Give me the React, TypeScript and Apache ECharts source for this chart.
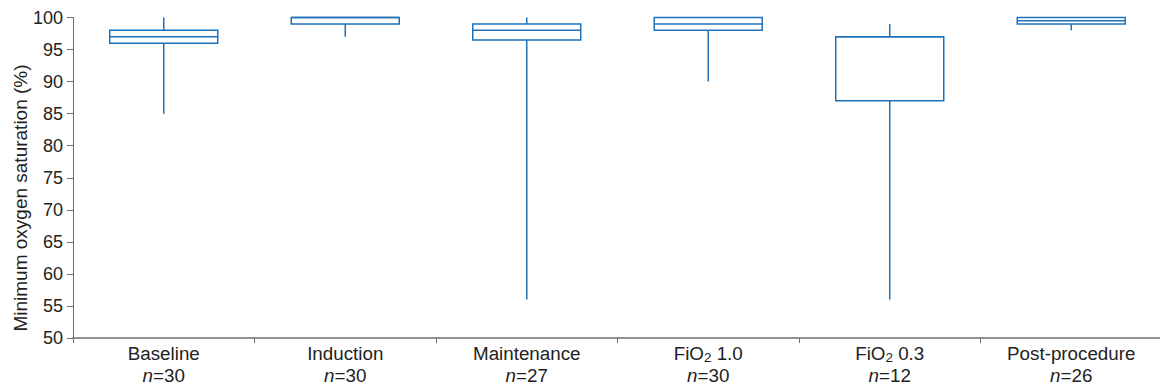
import React, { useEffect, useRef } from "react";
import * as echarts from "echarts";

const categories = ["Baseline", "Induction", "Maintenance", "FiO2 1.0", "FiO2 0.3", "Post-procedure"];
const sampleSizes = [30, 30, 27, 30, 12, 26];
const minValues = [85, 97, 56, 90, 56, 98];
const q1Values = [96, 99, 96.5, 98, 87, 99];
const medianValues = [97, 100, 98, 99, 97, 99.5];
const q3Values = [98, 100, 99, 100, 97, 100];
const maxValues = [100, 100, 100, 100, 99, 100];
const yTicks = [50, 55, 60, 65, 70, 75, 80, 85, 90, 95, 100];
const yTitle = "Minimum oxygen saturation (%)";

const FONT = "Liberation Sans, Arial, Helvetica, sans-serif";
const BLUE = "#1f72b8";

export default function App() {
  const ref = useRef<HTMLDivElement>(null);

  useEffect(() => {
    if (!ref.current) return;
    const chart = echarts.init(ref.current, null, { renderer: "svg" });
    const data = categories.map((_, i) => [i, minValues[i], q1Values[i], medianValues[i], q3Values[i], maxValues[i]]);

    chart.setOption({
      animation: false,
      grid: { left: 73, right: -2, top: 17.5, bottom: 49, containLabel: false, outerBoundsMode: "none" },
      xAxis: {
        type: "category",
        data: categories,
        boundaryGap: true,
        axisLine: { lineStyle: { color: "#6e6e6e", width: 1.5 } },
        axisTick: { show: true, length: 5, lineStyle: { color: "#6e6e6e", width: 1 } },
        axisLabel: {
          margin: 4,
          color: "#222",
          fontFamily: FONT,
          fontSize: 18.8,
          lineHeight: 22.5,
          formatter: (v: string, idx: number) => {
            const name = v.replace("FiO2", "FiO{sub|2}");
            return name + "\n{i|n}=" + sampleSizes[idx];
          },
          rich: {
            i: { fontStyle: "italic", fontFamily: FONT, fontSize: 18.8, color: "#222", lineHeight: 22.5 },
            sub: { fontSize: 13.5, fontFamily: FONT, color: "#222", padding: [9, 0, 0, 0], lineHeight: 22.5 },
          },
        },
        splitLine: { show: false },
      },
      yAxis: {
        type: "value",
        min: 50,
        max: 100,
        interval: 5,
        axisLine: { show: true, lineStyle: { color: "#6e6e6e", width: 1 } },
        axisTick: { show: true, length: 6, lineStyle: { color: "#6e6e6e", width: 1 } },
        axisLabel: {
          margin: 10,
          color: "#222",
          fontFamily: FONT,
          fontSize: 18,
          formatter: (v: number) => (yTicks.includes(v) ? String(v) : ""),
        },
        splitLine: { show: false },
      },
      graphic: [
        {
          type: "text",
          x: 20,
          y: 198,
          rotation: Math.PI / 2,
          style: {
            text: yTitle,
            fontFamily: FONT,
            fontSize: 19,
            fill: "#222",
            align: "center",
            verticalAlign: "middle",
          },
        },
      ],
      series: [
        {
          type: "custom",
          data,
          encode: { x: 0, y: [1, 2, 3, 4, 5] },
          renderItem: (params: any, api: any) => {
            const idx = api.value(0);
            const pMin = api.coord([idx, api.value(1)]);
            const pQ1 = api.coord([idx, api.value(2)]);
            const pMed = api.coord([idx, api.value(3)]);
            const pQ3 = api.coord([idx, api.value(4)]);
            const pMax = api.coord([idx, api.value(5)]);
            const w = api.size([1, 0])[0] * 0.595;
            const cx = pQ1[0];
            const style = { stroke: BLUE, lineWidth: 1.5, fill: "none" };
            const children: any[] = [];
            if (pMin[1] - pQ1[1] > 0.5)
              children.push({ type: "line", shape: { x1: cx, y1: pQ1[1], x2: cx, y2: pMin[1] }, style });
            if (pQ3[1] - pMax[1] > 0.5)
              children.push({ type: "line", shape: { x1: cx, y1: pQ3[1], x2: cx, y2: pMax[1] }, style });
            children.push({
              type: "rect",
              shape: { x: cx - w / 2, y: pQ3[1], width: w, height: pQ1[1] - pQ3[1] },
              style: { stroke: BLUE, lineWidth: 1.5, fill: "#fff" },
            });
            children.push({
              type: "line",
              shape: { x1: cx - w / 2, y1: pMed[1], x2: cx + w / 2, y2: pMed[1] },
              style,
            });
            return { type: "group", children };
          },
        },
      ],
    });

    return () => chart.dispose();
  }, []);

  return (
    <div
      ref={ref}
      style={{ position: "fixed", left: 0, top: 0, width: 1160, height: 387, background: "#fff" }}
    />
  );
}
